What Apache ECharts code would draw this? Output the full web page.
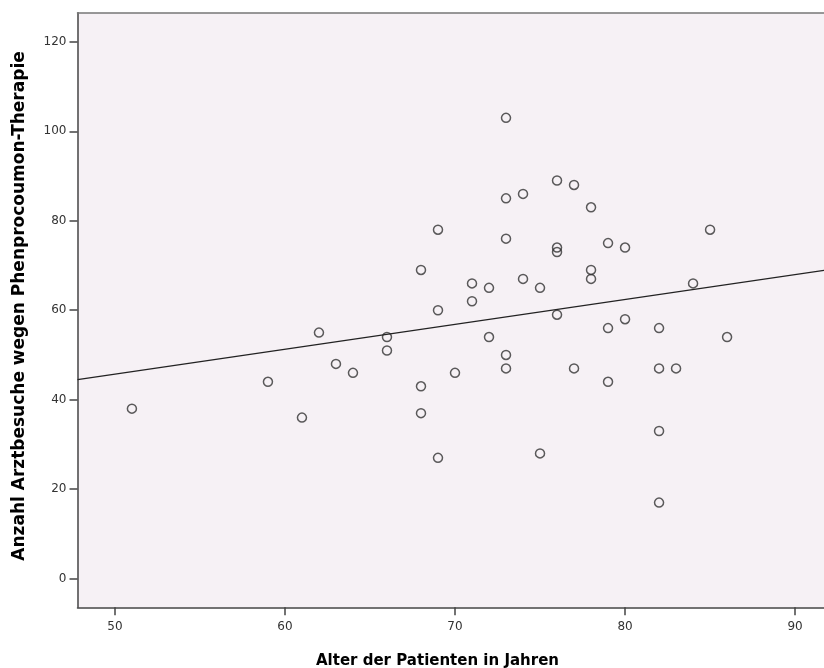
<!DOCTYPE html>
<html>
<head>
<meta charset="utf-8">
<script src="https://cdn.jsdelivr.net/npm/echarts@6/dist/echarts.min.js"></script>
<style>
  html, body { margin: 0; padding: 0; background: #ffffff; }
  #chart { width: 824px; height: 668px; }
</style>
</head>
<body>
<div id="chart"></div>
<script>
// Alter der Patienten (Jahre)
var alter = [51, 59, 61, 62, 63, 64, 66, 66, 68, 68, 68, 69, 69, 69, 70, 71, 71, 72, 72,
             73, 73, 73, 73, 73, 74, 74, 75, 75, 76, 76, 76, 76, 77, 77, 78, 78, 78,
             79, 79, 79, 80, 80, 82, 82, 82, 82, 83, 84, 85, 86];
// Anzahl Arztbesuche
var besuche = [38, 44, 36, 55, 48, 46, 54, 51, 69, 43, 37, 78, 60, 27, 46, 66, 62, 65, 54,
               103, 85, 76, 50, 47, 86, 67, 65, 28, 89, 74, 73, 59, 88, 47, 83, 69, 67,
               75, 56, 44, 74, 58, 56, 47, 33, 17, 47, 66, 78, 54];
var fitX = [47.8, 91.7];
var fitY = [44.5, 68.9];
var xTicks = [50, 60, 70, 80, 90];
var yTicks = [0, 20, 40, 60, 80, 100, 120];

var points = alter.map(function (a, i) { return [a, besuche[i]]; });
var fitLine = fitX.map(function (x, i) { return [x, fitY[i]]; });

var chart = echarts.init(document.getElementById('chart'));
var labelFont = { color: '#333', fontSize: 12, fontFamily: 'DejaVu Sans' };

chart.setOption({
  animation: false,
  backgroundColor: '#ffffff',
  grid: {
    left: 77.5, top: 12.7, right: 0, bottom: 60.7,
    show: true, backgroundColor: '#f6f1f5', borderWidth: 0
  },
  xAxis: [{
    type: 'value', min: 47.8, max: 91.7,
    splitLine: { show: false },
    axisLine: { onZero: false, lineStyle: { color: '#444', width: 1.5 } },
    axisTick: { length: 8, lineStyle: { color: '#444', width: 1.5 }, customValues: xTicks },
    axisLabel: Object.assign({ margin: 14, customValues: xTicks }, labelFont)
  }, {
    type: 'value', position: 'top', min: 47.8, max: 91.7,
    splitLine: { show: false },
    axisLine: { show: true, onZero: false, lineStyle: { color: '#777', width: 1.5 } },
    axisTick: { show: false }, axisLabel: { show: false }
  }],
  yAxis: {
    type: 'value', min: -6.4, max: 126.5,
    splitLine: { show: false },
    axisLine: { show: true, onZero: false, lineStyle: { color: '#444', width: 1.5 } },
    axisTick: { show: true, length: 8, lineStyle: { color: '#444', width: 1.5 }, customValues: yTicks },
    axisLabel: Object.assign({ margin: 11, customValues: yTicks }, labelFont)
  },
  graphic: [{
    type: 'text', left: 316, top: 654,
    style: { text: 'Alter der Patienten in Jahren', fill: '#000',
             font: 'bold 15px "DejaVu Sans"' }
  }, {
    type: 'text', x: 20, y: 306, rotation: Math.PI / 2,
    style: { text: 'Anzahl Arztbesuche wegen Phenprocoumon-Therapie', fill: '#000',
             font: 'bold 17px "DejaVu Sans"', align: 'center', verticalAlign: 'middle' }
  }],
  series: [{
    type: 'line', data: fitLine, symbol: 'none', silent: true,
    lineStyle: { color: '#222', width: 1.2 }
  }, {
    type: 'scatter', data: points, symbol: 'circle', symbolSize: 9,
    itemStyle: { color: 'rgba(0,0,0,0)', borderColor: '#333', borderWidth: 1.5 }
  }]
});
</script>
</body>
</html>
